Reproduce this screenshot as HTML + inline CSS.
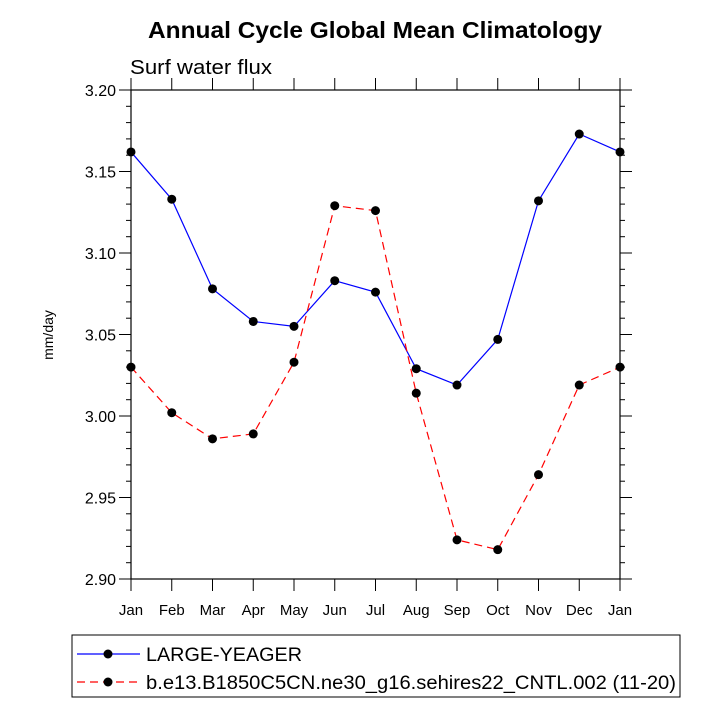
<!DOCTYPE html>
<html><head><meta charset="utf-8"><style>
body{margin:0;background:#fff;}
svg text{font-family:"Liberation Sans",Arial,sans-serif;}
</style></head><body>
<svg id="chart" width="720" height="720" xmlns="http://www.w3.org/2000/svg">
<rect width="720" height="720" fill="#fff"/>
<text x="148" y="38" font-size="23" font-weight="bold" textLength="454" lengthAdjust="spacingAndGlyphs">Annual Cycle Global Mean Climatology</text>
<text x="130" y="74" font-size="20" textLength="142" lengthAdjust="spacingAndGlyphs">Surf water flux</text>
<text transform="translate(53,335) rotate(-90)" text-anchor="middle" font-size="14">mm/day</text>
<g id="axes"></g>
<g id="series"></g>
<g>
<rect x="72" y="635" width="608" height="62" fill="none" stroke="#000" stroke-width="1"/>
<line x1="77" y1="654" x2="140" y2="654" stroke="#0000ff" stroke-width="1.2"/>
<circle cx="108" cy="654" r="4.5" fill="#000"/>
<text x="146" y="661" font-size="19" textLength="156" lengthAdjust="spacingAndGlyphs">LARGE-YEAGER</text>
<line x1="77" y1="682" x2="140" y2="682" stroke="#ff0000" stroke-width="1.2" stroke-dasharray="8,5"/>
<circle cx="108" cy="682" r="4.5" fill="#000"/>
<text x="146" y="689" font-size="19" textLength="530" lengthAdjust="spacingAndGlyphs">b.e13.B1850C5CN.ne30_g16.sehires22_CNTL.002 (11-20)</text>
</g>
</svg>
<script>
const months=["Jan","Feb","Mar","Apr","May","Jun","Jul","Aug","Sep","Oct","Nov","Dec","Jan"];
const largeYeager=[3.162,3.133,3.078,3.058,3.055,3.083,3.076,3.029,3.019,3.047,3.132,3.173,3.162];
const cntl=[3.030,3.002,2.986,2.989,3.033,3.129,3.126,3.014,2.924,2.918,2.964,3.019,3.030];
const yTicks=[2.90,2.95,3.00,3.05,3.10,3.15,3.20];
const yTickLabels=["2.90","2.95","3.00","3.05","3.10","3.15","3.20"];
const X0=131,X1=620,Y0=579,Y1=90,YMIN=2.9,YMAX=3.2;
function xs(i){return X0+(X1-X0)*i/(months.length-1);}
function ys(v){return Y0-(v-YMIN)/(YMAX-YMIN)*(Y0-Y1);}
const NS="http://www.w3.org/2000/svg";
function mk(tag,attrs,parent){const e=document.createElementNS(NS,tag);for(const k in attrs)e.setAttribute(k,attrs[k]);parent.appendChild(e);return e;}
const ax=document.getElementById('axes');
const frame=mk('rect',{x:X0,y:Y1,width:X1-X0,height:Y0-Y1,fill:'none',stroke:'#000','stroke-width':1.2},ax);


months.forEach((m,i)=>{
  const x=xs(i);
  mk('line',{x1:x,y1:Y0,x2:x,y2:Y0+12,stroke:'#000'},ax);
  mk('line',{x1:x,y1:Y1,x2:x,y2:Y1-12,stroke:'#000'},ax);
  const t=mk('text',{x:x,y:Y0+36,'text-anchor':'middle','font-size':15},ax);
  t.textContent=m;
  
  
});
for(let v=YMIN;v<=YMAX+1e-9;v+=0.01){
  const y=ys(v);
  mk('line',{x1:X0,y1:y,x2:X0-5,y2:y,stroke:'#000'},ax);
  mk('line',{x1:X1,y1:y,x2:X1+5,y2:y,stroke:'#000'},ax);
}
yTicks.forEach((v,i)=>{
  const y=ys(v);
  mk('line',{x1:X0,y1:y,x2:X0-12,y2:y,stroke:'#000'},ax);
  mk('line',{x1:X1,y1:y,x2:X1+12,y2:y,stroke:'#000'},ax);
  const t=mk('text',{x:X0-15,y:y+6,'text-anchor':'end','font-size':16},ax);
  t.textContent=yTickLabels[i];
  
  
});
const sg=document.getElementById('series');
function drawSeries(vals,color,dash,name){
  const pts=vals.map((v,i)=>xs(i)+','+ys(v)).join(' ');
  const pl=mk('polyline',{points:pts,fill:'none',stroke:color,'stroke-width':1.2},sg);
  if(dash)pl.setAttribute('stroke-dasharray',dash);
  
  
  vals.forEach((v,i)=>{
    const c=mk('circle',{cx:xs(i),cy:ys(v),r:4.5,fill:'#000'},sg);
    
    
  });
}
drawSeries(largeYeager,'#0000ff',null,'large-yeager');
drawSeries(cntl,'#ff0000','8,5','cntl');
</script>
</body></html>
